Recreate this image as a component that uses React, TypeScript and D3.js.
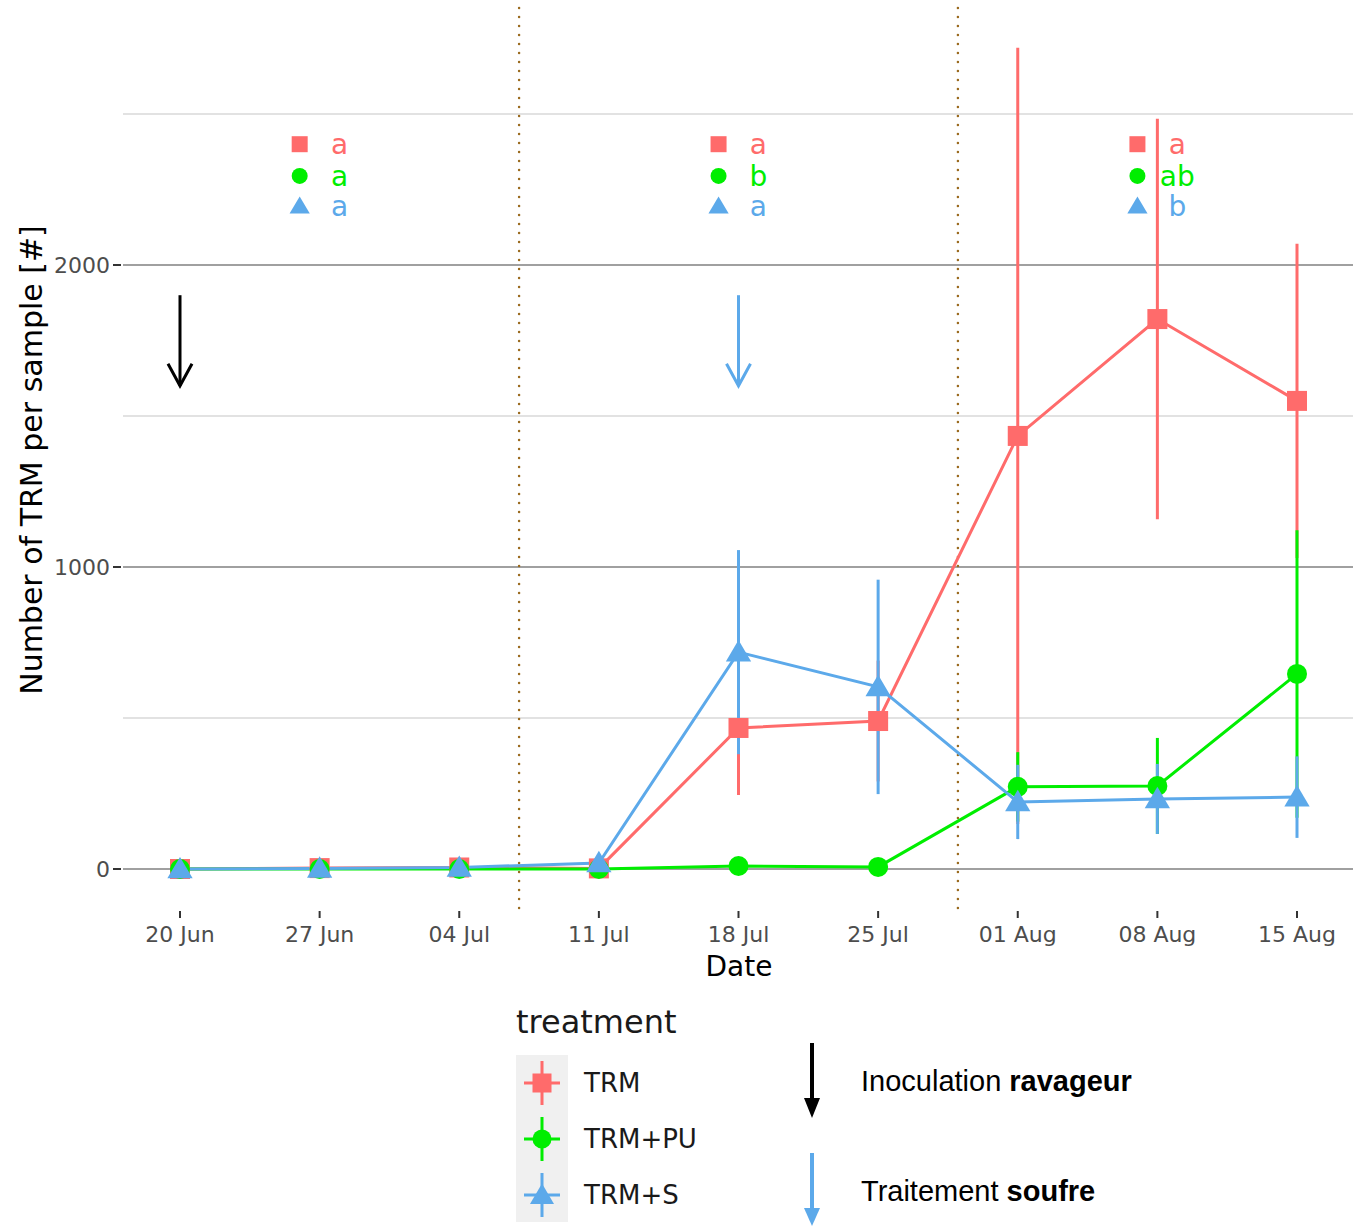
import React from "react";
import * as d3 from "d3";

// sampling dates (weekly)
const dates = ["2021-06-20", "2021-06-27", "2021-07-04", "2021-07-11", "2021-07-18", "2021-07-25", "2021-08-01", "2021-08-08", "2021-08-15"];
const tickLabels = ["20 Jun", "27 Jun", "04 Jul", "11 Jul", "18 Jul", "25 Jul", "01 Aug", "08 Aug", "15 Aug"];

const trmMean = [0, 3, 5, 2, 467, 490, 1434, 1821, 1550];
const trmErr = [2, 4, 6, 4, 222, 200, 1285, 663, 520];
const puMean = [0, 0, 0, 0, 10, 7, 272, 275, 646];
const puErr = [1, 1, 1, 1, 8, 6, 115, 159, 476];
const sMean = [0, 2, 5, 20, 718, 603, 222, 232, 238];
const sErr = [2, 3, 5, 10, 338, 355, 123, 116, 135];

const yTicks = [0, 1000, 2000];
const yMinor = [500, 1500, 2500];

// significance letters per period
const letterDates = ["2021-06-27", "2021-07-18", "2021-08-08"];
const lettersTRM = ["a", "a", "a"];
const lettersPU = ["a", "b", "ab"];
const lettersS = ["a", "a", "b"];
const letterRows = [2400, 2295, 2195];

const periodBreaks = ["2021-07-07", "2021-07-29"];
const arrowDates = ["2021-06-20", "2021-07-18"];
const arrowFrom = 1900;
const arrowTo = 1600;

const RED = "#FF6B6B";
const GREEN = "#00EE00";
const BLUE = "#5CA9EA";
const FONT = "DejaVu Sans, sans-serif";
const ARIAL = "Liberation Sans, Arial, sans-serif";

const parse = (s: string) => new Date(s + "T00:00:00Z");

type Series = { name: string; color: string; shape: string; mean: number[]; err: number[]; letters: string[] };
const series: Series[] = [
  { name: "TRM", color: RED, shape: "square", mean: trmMean, err: trmErr, letters: lettersTRM },
  { name: "TRM+PU", color: GREEN, shape: "circle", mean: puMean, err: puErr, letters: lettersPU },
  { name: "TRM+S", color: BLUE, shape: "triangle", mean: sMean, err: sErr, letters: lettersS },
];

function Marker({ shape, cx, cy, color, s = 1 }: { shape: string; cx: number; cy: number; color: string; s?: number }) {
  if (shape === "square") return <rect x={cx - 10 * s} y={cy - 10 * s} width={20 * s} height={20 * s} fill={color} />;
  if (shape === "circle") return <circle cx={cx} cy={cy} r={10 * s} fill={color} />;
  const h = 11 * s;
  return <path d={`M${cx},${cy - h * 1.1}L${cx + h * 1.15},${cy + h * 0.85}L${cx - h * 1.15},${cy + h * 0.85}Z`} fill={color} />;
}

export default function App() {
  const width = 1355;
  const height = 1226;
  const panel = { left: 123, right: 1353, top: 8, bottom: 898 };

  const x = d3.scaleUtc().domain([parse(dates[0]), parse(dates[dates.length - 1])]).range([180, 1297]);
  const y = d3.scaleLinear().domain([0, 2000]).range([869, 265]);

  const line = d3.line<number>().x((_, i) => x(parse(dates[i]))).y((d) => y(d));

  const day = 24 * 3600 * 1000;

  return (
    <svg width={width} height={height} style={{ display: "block", position: "absolute", left: 0, top: 0 }} fontFamily={FONT}>
      <rect width={width} height={height} fill="#fff" />
      {/* grid */}
      {yMinor.map((v) => (
        <line key={"mi" + v} x1={panel.left} x2={panel.right} y1={y(v)} y2={y(v)} stroke="#e2e2e2" strokeWidth={2} />
      ))}
      {yTicks.map((v) => (
        <line key={"ma" + v} x1={panel.left} x2={panel.right} y1={y(v)} y2={y(v)} stroke="#a0a0a0" strokeWidth={2} />
      ))}
      {/* y axis ticks and labels */}
      {yTicks.map((v) => (
        <g key={"yt" + v}>
          <line x1={113} x2={121} y1={y(v)} y2={y(v)} stroke="#333" strokeWidth={2} />
          <text x={110} y={y(v)} dy="0.35em" textAnchor="end" fontSize={22} fill="#4d4d4d">{v}</text>
        </g>
      ))}
      {/* x axis ticks and labels */}
      {dates.map((d, i) => (
        <g key={"xt" + d}>
          <line x1={x(parse(d))} x2={x(parse(d))} y1={911} y2={918} stroke="#333" strokeWidth={2} />
          <text x={x(parse(d))} y={942} textAnchor="middle" fontSize={22} fill="#4d4d4d">{tickLabels[i]}</text>
        </g>
      ))}
      <text x={739} y={976} textAnchor="middle" fontSize={28} fill="#000">Date</text>
      <text transform={`translate(42,460) rotate(-90)`} textAnchor="middle" fontSize={30} fill="#000">Number of TRM per sample [#]</text>

      {/* period separators */}
      {periodBreaks.map((d) => (
        <line key={"pb" + d} x1={x(parse(d))} x2={x(parse(d))} y1={panel.top} y2={912} stroke="#9A6A1E" strokeWidth={2.5} strokeDasharray="0 9" strokeLinecap="round" />
      ))}

      {/* error bars */}
      {series.map((s) => (
        <g key={"eb" + s.name}>
          {s.mean.map((m, i) => (
            <line key={i} x1={x(parse(dates[i]))} x2={x(parse(dates[i]))} y1={y(m - s.err[i])} y2={y(m + s.err[i])} stroke={s.color} strokeWidth={3} />
          ))}
        </g>
      ))}
      {/* lines */}
      {series.map((s) => (
        <path key={"ln" + s.name} d={line(s.mean) || ""} fill="none" stroke={s.color} strokeWidth={3} />
      ))}
      {/* points */}
      {series.map((s) => (
        <g key={"pt" + s.name}>
          {s.mean.map((m, i) => (
            <Marker key={i} shape={s.shape} cx={x(parse(dates[i]))} cy={y(m)} color={s.color} />
          ))}
        </g>
      ))}

      {/* significance letters */}
      {letterDates.map((d, j) => (
        <g key={"lt" + d}>
          {series.map((s, k) => {
            const cx = x(new Date(parse(d).getTime() - day));
            const lx = x(new Date(parse(d).getTime() + day));
            const cy = y(letterRows[k]);
            return (
              <g key={k}>
                <Marker shape={s.shape} cx={cx} cy={cy} color={s.color} s={0.8} />
                <text x={lx} y={cy} dy="0.35em" textAnchor="middle" fontSize={28} fill={s.color}>{s.letters[j]}</text>
              </g>
            );
          })}
        </g>
      ))}

      {/* treatment arrows */}
      {arrowDates.map((d, i) => {
        const ax = x(parse(d));
        const c = i === 0 ? "#000" : BLUE;
        return (
          <g key={"ar" + d} stroke={c} strokeWidth={3} fill="none">
            <line x1={ax} x2={ax} y1={y(arrowFrom)} y2={y(arrowTo)} />
            <path d={`M${ax - 12},${y(arrowTo) - 22}L${ax},${y(arrowTo)}L${ax + 12},${y(arrowTo) - 22}`} />
          </g>
        );
      })}

      {/* legend */}
      <text x={516} y={1033} fontSize={32} fill="#1a1a1a">treatment</text>
      <rect x={516} y={1055} width={52} height={167} fill="#f0f0f0" />
      {series.map((s, k) => {
        const cy = 1083 + k * 56;
        return (
          <g key={"lg" + s.name}>
            <line x1={542} x2={542} y1={cy - 22} y2={cy + 22} stroke={s.color} strokeWidth={3} />
            <line x1={524} x2={560} y1={cy} y2={cy} stroke={s.color} strokeWidth={3} />
            <Marker shape={s.shape} cx={542} cy={cy} color={s.color} s={0.95} />
            <text x={584} y={cy} dy="0.35em" fontSize={26} fill="#1a1a1a">{s.name}</text>
          </g>
        );
      })}

      {/* annotation key */}
      <line x1={812} x2={812} y1={1043} y2={1100} stroke="#000" strokeWidth={4} />
      <path d="M804,1098L820,1098L812,1118Z" fill="#000" />
      <text x={861} y={1091} fontFamily={ARIAL} fontSize={29} fill="#000">
        Inoculation <tspan fontWeight="bold">ravageur</tspan>
      </text>
      <line x1={812} x2={812} y1={1153} y2={1210} stroke={BLUE} strokeWidth={4} />
      <path d="M804,1208L820,1208L812,1226Z" fill={BLUE} />
      <text x={861} y={1201} fontFamily={ARIAL} fontSize={29} fill="#000">
        Traitement <tspan fontWeight="bold">soufre</tspan>
      </text>
    </svg>
  );
}
